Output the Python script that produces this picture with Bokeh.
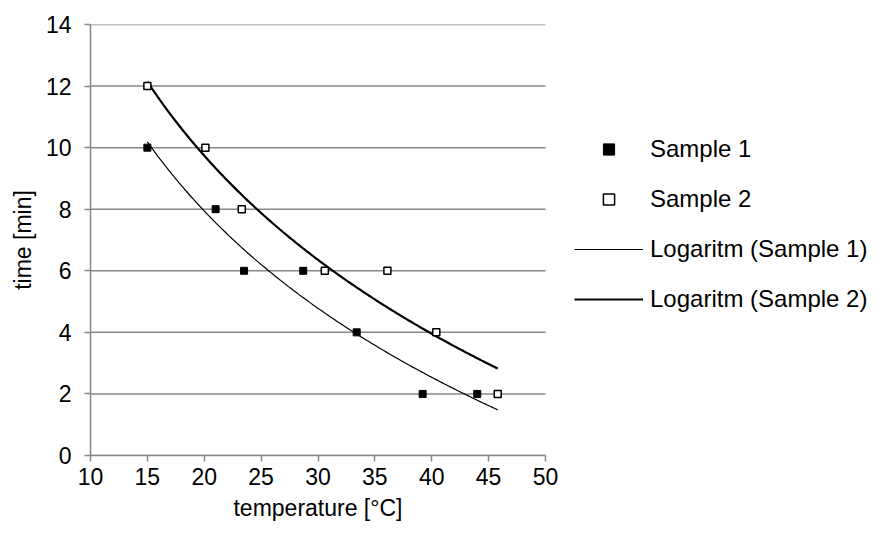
import numpy as np
from bokeh.plotting import figure
from bokeh.models import Legend, LegendItem, Range1d, FixedTicker, Title
from bokeh.embed import file_html
from bokeh.resources import INLINE

# Data
s1_temp = [15.0, 21.0, 23.5, 28.7, 33.4, 39.2, 44.0]
s1_time = [10, 8, 6, 6, 4, 2, 2]
s2_temp = [15.0, 20.1, 23.3, 30.6, 36.1, 40.4, 45.8]
s2_time = [12, 10, 8, 6, 6, 4, 2]
x_ticks = [10, 15, 20, 25, 30, 35, 40, 45, 50]
y_ticks = [0, 2, 4, 6, 8, 10, 12, 14]
x_title = "temperature [°C]"
y_title = "time [min]"

FONT = "Liberation Sans"
GRAY = "#878787"
TICK_FS = 23
TITLE_FS = 23

W, H = 876, 531
LEFT, TOP, BOTTOM = 90, 24, 76
AXIS_PX = 455  # pixel length of the 10..50 axis
x_lo, x_hi = x_ticks[0], x_ticks[-1]
frame_w = W - LEFT
x_end = x_lo + (x_hi - x_lo) * frame_w / AXIS_PX

p = figure(width=W, height=H, output_backend="svg", toolbar_location=None,
           x_range=Range1d(x_lo, x_end), y_range=Range1d(y_ticks[0], y_ticks[-1]),
           min_border_left=LEFT, min_border_right=0, min_border_top=TOP, min_border_bottom=BOTTOM)
p.outline_line_color = None
p.xgrid.grid_line_color = None
p.ygrid.grid_line_color = None
p.background_fill_color = "white"

# horizontal gridlines spanning only the 10..50 axis
p.segment(x0=[x_lo] * len(y_ticks), x1=[x_hi] * len(y_ticks), y0=y_ticks, y1=y_ticks,
          line_color=GRAY, line_width=1.5)

for ax in (p.xaxis[0], p.yaxis[0]):
    ax.axis_line_color = GRAY
    ax.axis_line_width = 1.5
    ax.major_tick_line_color = GRAY
    ax.major_tick_line_width = 1.5
    ax.major_tick_out = 6
    ax.major_tick_in = 0
    ax.minor_tick_line_color = None
    ax.major_label_text_font = FONT
    ax.major_label_text_font_size = f"{TICK_FS}px"
    ax.major_label_text_color = "black"
    ax.axis_label_text_font = FONT
    ax.axis_label_text_font_size = f"{TITLE_FS}px"
    ax.axis_label_text_font_style = "normal"
    ax.axis_label_text_color = "black"

p.xaxis[0].ticker = FixedTicker(ticks=x_ticks)
p.xaxis[0].bounds = (x_lo, x_hi)
p.yaxis[0].ticker = FixedTicker(ticks=y_ticks)
p.yaxis[0].axis_label = y_title
p.xaxis[0].major_label_standoff = 6
p.yaxis[0].major_label_standoff = 13
p.yaxis[0].axis_label_standoff = 7

# x-axis title centred under the 10..50 axis (approx. text width for Arial metrics)
title_w = 7.35 * TITLE_FS
xt = Title(text=x_title, align="left", offset=AXIS_PX / 2 - title_w / 2, standoff=10,
           text_font=FONT, text_font_size=f"{TITLE_FS}px", text_font_style="normal",
           text_color="black")
p.add_layout(xt, "below")

# logarithmic trend lines (least squares fit of y = a*ln(x) + b)
xmin = min(min(s1_temp), min(s2_temp))
xmax = max(max(s1_temp), max(s2_temp))
xs = np.linspace(xmin, xmax, 200)
a1, b1 = np.polyfit(np.log(s1_temp), s1_time, 1)
a2, b2 = np.polyfit(np.log(s2_temp), s2_time, 1)
l1 = p.line(xs, a1 * np.log(xs) + b1, line_color="black", line_width=1.2)
l2 = p.line(xs, a2 * np.log(xs) + b2, line_color="black", line_width=2.2)

r1 = p.scatter(s1_temp, s1_time, marker="square", size=7, fill_color="black", line_color="black")
r2 = p.scatter(s2_temp, s2_time, marker="square", size=7, fill_color="white", line_color="black", line_width=1.5)

legend = Legend(items=[
    LegendItem(label="Sample 1", renderers=[r1]),
    LegendItem(label="Sample 2", renderers=[r2]),
    LegendItem(label="Logaritm (Sample 1)", renderers=[l1]),
    LegendItem(label="Logaritm (Sample 2)", renderers=[l2]),
], location=(484, 142))
legend.border_line_color = None
legend.background_fill_alpha = 0
legend.padding = 0
legend.margin = 0
legend.glyph_width = 69
legend.glyph_height = 28
legend.label_height = 28
legend.spacing = 22
legend.label_standoff = 7
legend.label_text_font = FONT
legend.label_text_font_size = "24px"
legend.label_text_color = "black"
p.add_layout(legend, "center")

open("out.html", "w").write(file_html(p, INLINE))
